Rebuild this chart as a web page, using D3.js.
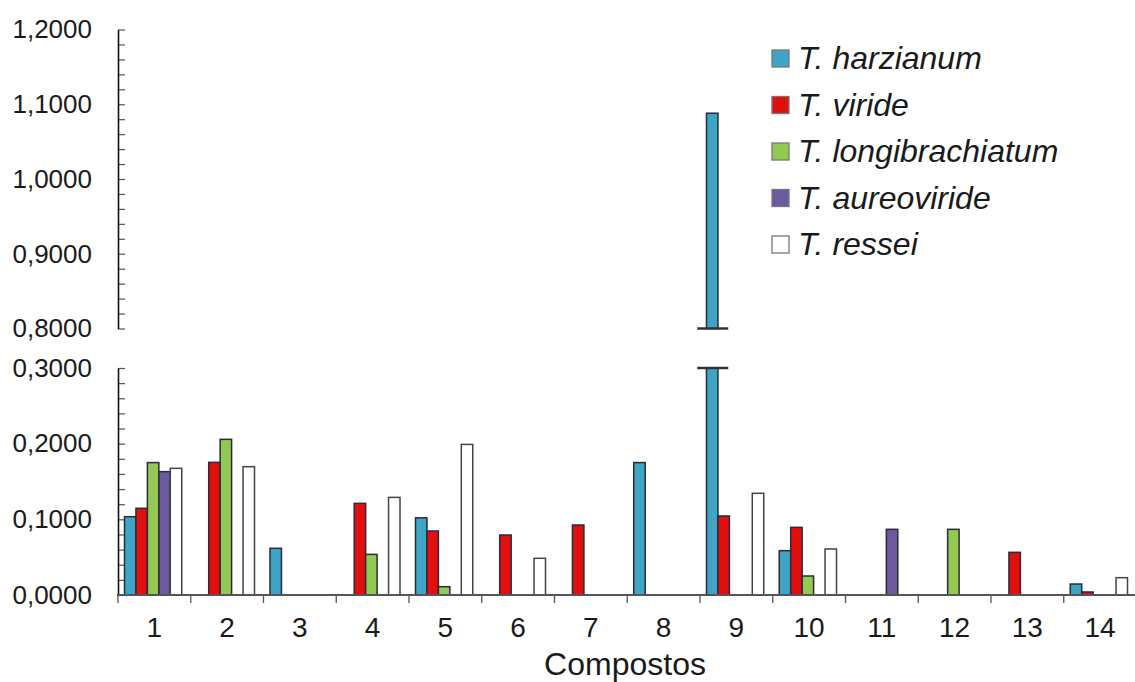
<!DOCTYPE html>
<html>
<head>
<meta charset="utf-8">
<script src="https://cdn.jsdelivr.net/npm/d3@7"></script>
<style>
  body { margin: 0; background: #fff; }
  text { font-family: "Liberation Sans", Arial, sans-serif; fill: #1a1a1a; }
</style>
</head>
<body>
<svg id="chart" width="1135" height="682"></svg>
<script>
// Compost samples on the x axis
const categories = ["1", "2", "3", "4", "5", "6", "7", "8", "9", "10", "11", "12", "13", "14"];
const species = ["T. harzianum", "T. viride", "T. longibrachiatum", "T. aureoviride", "T. ressei"];

// Values per compost, one array per species
const harzianum       = [0.1035, 0, 0.0617, 0, 0.1020, 0, 0, 0.1750, 1.0880, 0.0586, 0, 0, 0, 0.0145];
const viride          = [0.1146, 0.1753, 0, 0.1211, 0.0846, 0.0793, 0.0925, 0, 0.1044, 0.0894, 0, 0, 0.0564, 0.0040];
const longibrachiatum = [0.1750, 0.2057, 0, 0.0537, 0.0110, 0, 0, 0, 0, 0.0251, 0, 0.0868, 0, 0];
const aureoviride     = [0.1630, 0, 0, 0, 0, 0, 0, 0, 0, 0, 0.0868, 0, 0, 0];
const ressei          = [0.1674, 0.1696, 0, 0.1290, 0.1990, 0.0485, 0, 0, 0.1344, 0.0608, 0, 0, 0, 0.0229];

// Broken y axis: lower and upper segments
const lowerDomain = [0, 0.3];
const upperDomain = [0.8, 1.2];
const lowerTicks = [0, 0.1, 0.2, 0.3];
const upperTicks = [0.8, 0.9, 1.0, 1.1, 1.2];

const seriesValues = [harzianum, viride, longibrachiatum, aureoviride, ressei];
const colors = ["#3ea5c6", "#e20f0f", "#93c853", "#6b5a9d", "#ffffff"];

const svg = d3.select("#chart");
const locale = d3.formatLocale({ decimal: ",", thousands: ".", grouping: [3], currency: ["", ""] });
const fmt = locale.format(".4f");

const axisX = 118;
const x = d3.scaleBand(categories, [axisX, 1136.5]);
const xs = d3.scaleBand(d3.range(species.length), [6.5, x.bandwidth() - 9]);
const yLow = d3.scaleLinear(lowerDomain, [595, 368]);
const yHigh = d3.scaleLinear(upperDomain, [328.5, 29.5]);

// Minor ticks every 0.02
const minorLow = d3.range(0, 0.3001, 0.02);
const minorHigh = d3.range(0.8, 1.2001, 0.02);

function drawYAxis(scale, majors, minors) {
  // tick marks
  svg.append("g")
    .attr("transform", `translate(${axisX},0)`)
    .call(d3.axisRight(scale).tickValues(minors).tickSize(7).tickFormat(""))
    .call(g => g.select(".domain").remove())
    .call(g => g.selectAll(".tick line").attr("stroke", "#555").attr("stroke-width", 1.2));
  // labels + axis line
  svg.append("g")
    .attr("transform", `translate(${axisX},0)`)
    .call(d3.axisLeft(scale).tickValues(majors).tickSize(0).tickPadding(26).tickFormat(fmt))
    .call(g => g.select(".domain").attr("stroke", "#111").attr("stroke-width", 1.6))
    .call(g => g.selectAll(".tick text")
      .attr("font-size", 26)
      .attr("font-family", '"Liberation Sans", Arial, sans-serif')
      .attr("fill", "#1a1a1a"));
}
drawYAxis(yHigh, upperTicks, minorHigh);
drawYAxis(yLow, lowerTicks, minorLow);

// Bars
const barsG = svg.append("g");
categories.forEach((c, ci) => {
  seriesValues.forEach((vals, si) => {
    const v = vals[ci];
    if (!(v > 0)) return;
    const bx = x(c) + xs(si);
    const bw = xs.bandwidth();
    const style = sel => sel
      .attr("fill", colors[si])
      .attr("stroke", si === 4 ? "#444" : "#2a2a3a")
      .attr("stroke-width", 1.5);
    if (v <= lowerDomain[1]) {
      barsG.append("rect")
        .attr("x", bx).attr("width", bw)
        .attr("y", yLow(v)).attr("height", yLow(0) - yLow(v))
        .call(style);
    } else {
      // value beyond the break: fill lower segment, continue in the upper one
      barsG.append("rect")
        .attr("x", bx).attr("width", bw)
        .attr("y", yLow(lowerDomain[1])).attr("height", yLow(0) - yLow(lowerDomain[1]))
        .call(style);
      barsG.append("rect")
        .attr("x", bx).attr("width", bw)
        .attr("y", yHigh(v)).attr("height", yHigh(upperDomain[0]) - yHigh(v))
        .call(style);
      const cx = bx + bw / 2;
      [yLow(lowerDomain[1]), yHigh(upperDomain[0])].forEach(yy => {
        barsG.append("line")
          .attr("x1", cx - 15).attr("x2", cx + 16)
          .attr("y1", yy).attr("y2", yy)
          .attr("stroke", "#333").attr("stroke-width", 2.5);
      });
    }
  });
});

// X axis
const xAxisY = yLow(0);
svg.append("line")
  .attr("x1", axisX - 1).attr("x2", 1135)
  .attr("y1", xAxisY).attr("y2", xAxisY)
  .attr("stroke", "#555").attr("stroke-width", 2);
svg.append("g")
  .selectAll("line")
  .data(categories)
  .join("line")
  .attr("x1", d => x(d)).attr("x2", d => x(d))
  .attr("y1", xAxisY).attr("y2", xAxisY + 8)
  .attr("stroke", "#555").attr("stroke-width", 1.3);
svg.append("g")
  .attr("transform", `translate(0,${xAxisY})`)
  .call(d3.axisBottom(x).tickSize(0).tickPadding(22))
  .call(g => g.select(".domain").remove())
  .call(g => g.selectAll(".tick text")
    .attr("font-size", 28)
    .attr("font-family", '"Liberation Sans", Arial, sans-serif')
    .attr("fill", "#1a1a1a"));

svg.append("text")
  .attr("x", (axisX + 1136) / 2 - 2)
  .attr("y", 675)
  .attr("text-anchor", "middle")
  .attr("font-size", 32)
  .text("Compostos");

// Legend
const legend = svg.append("g").attr("transform", "translate(772,0)");
species.forEach((s, i) => {
  const by = 69 + i * 46.5;
  legend.append("rect")
    .attr("x", 0).attr("y", by - 19)
    .attr("width", 17).attr("height", 17)
    .attr("fill", colors[i])
    .attr("stroke", "#777").attr("stroke-width", 1.3);
  legend.append("text")
    .attr("x", 26).attr("y", by)
    .attr("font-size", 32)
    .attr("font-style", "italic")
    .text(s);
});
</script>
</body>
</html>
